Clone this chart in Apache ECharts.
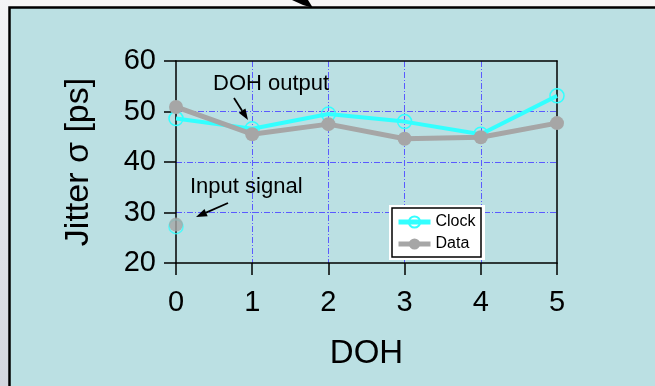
<!DOCTYPE html>
<html>
<head>
<meta charset="utf-8">
<script src="https://cdn.jsdelivr.net/npm/echarts@6/dist/echarts.min.js"></script>
<style>
  html, body { margin: 0; padding: 0; background: #f6f6f6; overflow: hidden; }
  #chart { width: 655px; height: 386px; }
</style>
</head>
<body>
<div id="chart"></div>
<script>
// Jitter measured after each DOH stage
const dohStages = [0, 1, 2, 3, 4, 5];
const clockJitter = [48.6, 46.6, 49.5, 48.0, 45.5, 53.1];
const dataJitter = [50.9, 45.5, 47.5, 44.6, 44.9, 47.7];
// Jitter of the input signal (before any DOH stage)
const clockInput = 27.2;
const dataInput = 27.6;
const yTicks = [20, 30, 40, 50, 60];

const FONT = '"Liberation Sans", Arial, sans-serif';
const CYAN = '#33ffff';
const GREY = '#a6a6a6';
const PANEL = '#bbe0e3';

const toPairs = (xs, ys) => xs.map((x, i) => [x, ys[i]]);

// straight line with a filled arrow head at (x2,y2)
function arrow(x1, y1, x2, y2, headLen, headW, width) {
  const dx = x2 - x1, dy = y2 - y1;
  const L = Math.hypot(dx, dy);
  const ux = dx / L, uy = dy / L;
  const bx = x2 - ux * headLen, by = y2 - uy * headLen;
  const px = -uy * headW / 2, py = ux * headW / 2;
  return [
    { type: 'line', shape: { x1: x1, y1: y1, x2: bx, y2: by },
      style: { stroke: '#000', lineWidth: width }, z: 20 },
    { type: 'polygon', shape: { points: [[x2, y2], [bx + px, by + py], [bx - px, by - py]] },
      style: { fill: '#000' }, z: 20 }
  ];
}

const chart = echarts.init(document.getElementById('chart'), null, { renderer: 'canvas' });

const W = 655, H = 386;
const axisLineStyle = { color: '#000', width: 1.5 };
const gridLine = { show: true, showMinLine: false, showMaxLine: false,
  lineStyle: { color: '#5a5aff', width: 1, type: [6, 2, 1, 2] } };

chart.setOption({
  backgroundColor: '#f6f6f6',
  animation: false,
  textStyle: { fontFamily: FONT },
  graphic: [
    // grey strip on the left edge
    { type: 'rect', shape: { x: 0, y: 0, width: 10, height: H },
      style: { fill: new echarts.graphic.LinearGradient(0, 0, 0, 1,
        [{ offset: 0, color: '#f4f4f6' }, { offset: 1, color: '#d3d6de' }]) }, z: -10 },
    // arrow coming in from above
    { type: 'polygon', shape: { points: [[292, 0], [308, 0], [313, 8], [303, 5]] },
      style: { fill: '#000' }, z: -9 },
    // teal panel, open to the right and bottom
    { type: 'rect', shape: { x: 9, y: 7, width: W - 9, height: H - 7 },
      style: { fill: PANEL }, z: -8 },
    { type: 'polyline', shape: { points: [[9.5, H], [9.5, 7.5], [W, 7.5]] },
      style: { stroke: '#000', lineWidth: 2.5, fill: null }, z: -7 },
    // empty teal margin on the right and along the bottom
    { type: 'rect', shape: { x: 575, y: 9, width: W - 575, height: H - 9 },
      style: { fill: PANEL }, z: 100 },
    { type: 'rect', shape: { x: 11, y: 376, width: W - 11, height: H - 376 },
      style: { fill: PANEL }, z: 100 },
    // legend frame
    { type: 'rect', shape: { x: 389, y: 205, width: 96, height: 55 },
      style: { fill: '#fff' }, z: 10 },
    { type: 'rect', shape: { x: 392, y: 208, width: 89, height: 49 },
      style: { fill: '#fff', stroke: '#000', lineWidth: 1.5 }, z: 10 },
    // annotations
    { type: 'text', x: 213, y: 84, z: 20,
      style: { text: 'DOH output', font: '22px ' + FONT, fill: '#000', textVerticalAlign: 'middle' } },
    { type: 'text', x: 190, y: 187, z: 20,
      style: { text: 'Input signal', font: '22px ' + FONT, fill: '#000', textVerticalAlign: 'middle' } },
    ...arrow(234, 98, 248, 120, 11, 8, 1.8),
    ...arrow(228, 203, 196, 217, 11, 8, 1.8)
  ],
  grid: { left: 176, right: 98, top: 61, bottom: 123, containLabel: false },
  legend: {
    data: [
      { name: 'Clock', lineStyle: { width: 5 } },
      { name: 'Data', lineStyle: { width: 5 } }
    ],
    orient: 'vertical',
    left: 396, top: 214,
    itemWidth: 32, itemHeight: 14, itemGap: 6,
    padding: 0,
    textStyle: { fontSize: 16, fontFamily: FONT, color: '#000' },
    z: 15
  },
  xAxis: [
    {
      type: 'value', min: 0, max: 5, interval: 1,
      name: 'DOH', nameLocation: 'middle', nameGap: 74,
      nameTextStyle: { fontSize: 33, color: '#000', fontFamily: FONT },
      axisLine: { show: true, onZero: false, lineStyle: axisLineStyle },
      axisTick: { show: true, inside: false, length: 12, lineStyle: axisLineStyle },
      axisLabel: { fontSize: 29, color: '#000', margin: 25, fontFamily: FONT },
      splitLine: gridLine
    },
    {
      type: 'value', min: 0, max: 5, interval: 1, position: 'top',
      axisLine: { show: true, onZero: false, lineStyle: axisLineStyle },
      axisTick: { show: false }, axisLabel: { show: false }, splitLine: { show: false }
    }
  ],
  yAxis: [
    {
      type: 'value', min: yTicks[0], max: yTicks[yTicks.length - 1], interval: 10,
      name: 'Jitter σ [ps]', nameLocation: 'middle', nameGap: 80, nameRotate: 90,
      nameTextStyle: { fontSize: 34, color: '#000', fontFamily: FONT },
      axisLine: { show: true, onZero: false, lineStyle: axisLineStyle },
      axisTick: { show: true, inside: false, length: 12, lineStyle: axisLineStyle },
      axisLabel: { fontSize: 29, color: '#000', margin: 20, fontFamily: FONT },
      splitLine: gridLine
    },
    {
      type: 'value', min: 20, max: 60, interval: 10, position: 'right',
      axisLine: { show: true, onZero: false, lineStyle: axisLineStyle },
      axisTick: { show: false }, axisLabel: { show: false }, splitLine: { show: false }
    }
  ],
  series: [
    {
      name: 'Clock input', type: 'scatter', data: [[0, clockInput]],
      symbol: 'circle', symbolSize: 14,
      itemStyle: { color: 'rgba(0,0,0,0)', borderColor: CYAN, borderWidth: 1.5 }, z: 3
    },
    {
      name: 'Data input', type: 'scatter', data: [[0, dataInput]],
      symbol: 'circle', symbolSize: 14,
      itemStyle: { color: GREY }, z: 4
    },
    {
      name: 'Clock', type: 'line', data: toPairs(dohStages, clockJitter),
      color: CYAN, symbol: 'circle', symbolSize: 14, showAllSymbol: true,
      lineStyle: { color: CYAN, width: 4 },
      itemStyle: { color: 'rgba(0,0,0,0)', borderColor: CYAN, borderWidth: 1.5 }, z: 3
    },
    {
      name: 'Data', type: 'line', data: toPairs(dohStages, dataJitter),
      color: GREY, symbol: 'circle', symbolSize: 14, showAllSymbol: true,
      lineStyle: { color: GREY, width: 5 },
      itemStyle: { color: GREY }, z: 4
    }
  ]
});
</script>
</body>
</html>
